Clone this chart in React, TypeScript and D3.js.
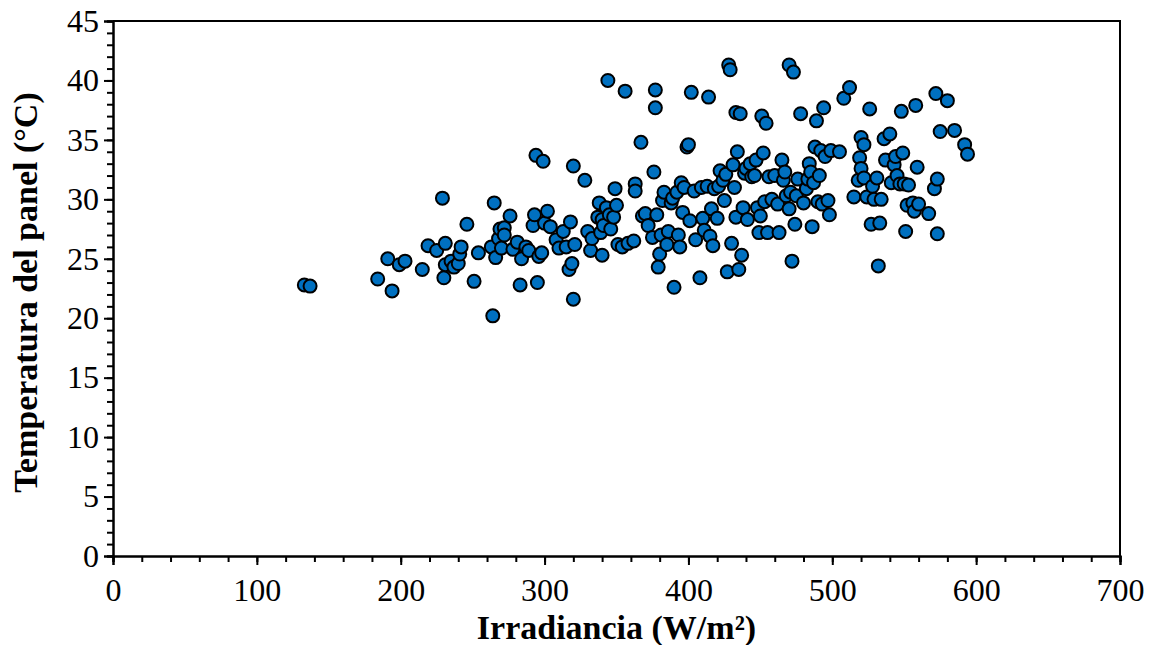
import React, { useEffect, useRef } from 'react';
import * as d3 from 'd3';

// irradiance (W/m²) and panel temperature (°C)
const irradiance = [
  133, 137, 184, 191, 194, 199, 203, 215, 219, 225, 229, 230, 231, 231, 235, 237, 240, 241, 242, 246, 251, 254,
  264, 263, 265, 266, 268, 269, 270, 272, 272, 276, 278, 281, 283, 284, 287, 289, 292, 293, 294, 295, 296, 298,
  299, 300, 302, 304, 308, 310, 313, 315, 317, 318, 319, 320, 320, 321,
  328, 330, 332, 333, 337, 338, 339, 340, 340, 341, 343, 344, 345, 346, 348, 349, 350, 351, 354, 356, 358, 362,
  363, 363, 367, 368, 370, 372, 375, 376, 377, 377, 378, 379, 380, 381, 382, 383, 385, 386, 388, 389, 390, 392,
  393, 394, 395, 396, 397, 399, 400, 401, 402, 404, 405, 408, 409, 410, 411, 413, 414, 415, 416, 417, 418, 420,
  421, 422, 424, 425, 426, 427, 428, 429, 430, 431, 432, 433, 433, 434, 435, 436, 437, 438, 439, 440, 441, 443,
  444, 446, 447, 448, 449, 450, 451, 452, 453, 454, 455, 456, 458, 460, 462, 463, 465, 466, 467, 468, 470, 470,
  471, 472, 473, 474, 475, 476, 478, 480, 482, 483, 484, 485, 486, 487, 488, 489, 490, 491, 492, 493, 494, 495,
  497, 498, 499, 505, 508, 512, 515, 518, 519, 520, 520, 522, 522, 524, 526, 527, 528, 529, 531, 532, 533, 534,
  536, 537, 540, 541, 543, 544, 545, 547, 548, 549, 550, 551, 552, 553, 556, 557, 558, 559, 560, 567, 571, 572,
  573, 573, 575, 580, 585, 592, 594,
];
const temperature = [
  22.8, 22.7, 23.3, 25.0, 22.3, 24.5, 24.8, 24.1, 26.1, 25.7, 30.1, 23.4, 24.5, 26.3, 24.8, 24.3, 24.6, 25.4, 26.0, 27.9, 23.1, 25.5,
  20.2, 26.0, 29.7, 25.1, 26.7, 27.5, 25.9, 27.6, 27.0, 28.6, 25.8, 26.4, 22.8, 25.0, 26.0, 25.7, 27.8, 28.7, 33.7, 23.0, 25.2, 25.5,
  33.2, 28.0, 29.0, 27.7, 26.6, 25.9, 27.3, 26.0, 24.1, 28.1, 24.6, 21.6, 32.8, 26.2,
  31.6, 27.3, 25.7, 26.7, 28.5, 29.7, 27.2, 25.3, 28.3, 27.8, 29.3, 40.0, 28.7, 27.5, 28.5, 30.9, 29.5, 26.2, 26.0, 39.1, 26.3, 26.5,
  31.3, 30.7, 34.8, 28.6, 28.8, 27.8, 26.8, 32.3, 39.2, 37.7, 28.7, 24.3, 25.4, 27.0, 29.9, 30.6, 26.2, 27.3, 29.7, 30.1, 22.6, 30.6,
  27.0, 26.0, 31.4, 28.9, 31.0, 34.4, 34.6, 28.2, 39.0, 30.7, 26.6, 23.4, 31.0, 28.4, 27.4, 31.1, 38.6, 26.9, 29.2, 26.1, 30.9, 28.4,
  31.1, 32.4, 31.6, 29.9, 32.1, 23.9, 41.3, 40.9, 26.3, 32.9, 31.0, 28.5, 37.3, 34.0, 24.1, 37.2, 25.3, 29.3, 32.2, 32.6, 28.3, 33.0,
  31.9, 32.0, 33.3, 29.3, 27.2, 28.6, 37.0, 33.9, 29.8, 36.4, 27.2, 31.9, 30.0, 32.0, 29.6, 27.2, 33.3, 31.6, 32.3, 30.3, 41.3, 29.2,
  30.6, 24.8, 40.7, 27.9, 30.3, 31.7, 37.2, 29.7, 30.9, 31.7, 33.0, 32.3, 27.7, 31.4, 34.4, 36.6, 29.8, 32.0, 34.1, 29.6, 37.7, 33.6,
  29.9, 28.7, 34.1, 34.0, 38.5, 39.4, 30.2, 31.6, 33.5, 35.2, 32.6, 34.6, 31.8, 30.2, 37.6, 27.9, 31.1, 30.0, 31.8, 24.4, 28.0, 30.0,
  35.1, 33.3, 35.5, 31.4, 32.9, 33.6, 32.0, 31.3, 37.4, 33.9, 31.3, 27.3, 29.5, 31.2, 29.7, 29.0, 37.9, 32.7, 29.6, 28.8, 30.9, 38.9,
  31.7, 27.1, 35.7, 38.3, 35.8, 34.6, 33.8,
];

const xTicks = [0, 100, 200, 300, 400, 500, 600, 700];
const yTicks = [0, 5, 10, 15, 20, 25, 30, 35, 40, 45];
const xMinorStep = 20;
const yMinorStep = 1;

const App = () => {
  const svgRef = useRef<SVGSVGElement>(null);

  useEffect(() => {
    const width = 1154;
    const height = 645;
    const margin = { top: 21, right: 34, bottom: 89, left: 113 };
    const innerW = width - margin.left - margin.right;
    const innerH = height - margin.top - margin.bottom;

    const svg = d3.select(svgRef.current);
    svg.selectAll('*').remove();
    svg.attr('width', width).attr('height', height);

    const g = svg.append('g').attr('transform', `translate(${margin.left},${margin.top})`);

    const x = d3.scaleLinear().domain([0, 700]).range([0, innerW]);
    const y = d3.scaleLinear().domain([0, 45]).range([innerH, 0]);

    const font = "'Liberation Serif', 'Times New Roman', Times, serif";

    // box (top + right)
    g.append('path')
      .attr('d', `M0,0H${innerW}V${innerH}`)
      .attr('fill', 'none')
      .attr('stroke', '#000')
      .attr('stroke-width', 2);

    // minor ticks
    const xMinor = d3.range(0, 700 + 1e-9, xMinorStep);
    const yMinor = d3.range(0, 45 + 1e-9, yMinorStep);

    const xAxisMinor = d3.axisBottom(x).tickValues(xMinor).tickSize(6).tickFormat(() => '');
    const yAxisMinor = d3.axisLeft(y).tickValues(yMinor).tickSize(6).tickFormat(() => '');

    const xAxis = d3.axisBottom(x).tickValues(xTicks).tickSize(9).tickPadding(13).tickFormat(d3.format('d'));
    const yAxis = d3.axisLeft(y).tickValues(yTicks).tickSize(9).tickPadding(5).tickFormat(d3.format('d'));

    const styleAxis = (sel: any) => {
      sel.attr('font-family', null).attr('font-size', null);
      sel.select('.domain').attr('stroke', '#000').attr('stroke-width', 2);
      sel.selectAll('.tick line').attr('stroke', '#000').attr('stroke-width', 2);
      sel.selectAll('text')
        .attr('fill', '#000')
        .style('font-family', font)
        .style('font-size', '32px');
    };

    g.append('g').attr('transform', `translate(0,${innerH})`).call(xAxisMinor).call(styleAxis);
    g.append('g').call(yAxisMinor).call(styleAxis);
    g.append('g').attr('transform', `translate(0,${innerH})`).call(xAxis).call(styleAxis);
    g.append('g').call(yAxis).call(styleAxis);

    // points
    const data = irradiance.map((v, i) => ({ irr: v, temp: temperature[i] }));
    g.selectAll('.dot')
      .data(data)
      .join('circle')
      .attr('class', 'dot')
      .attr('cx', (d) => x(d.irr))
      .attr('cy', (d) => y(d.temp))
      .attr('r', 6.5)
      .attr('fill', '#0070C0')
      .attr('stroke', '#000')
      .attr('stroke-width', 2);

    // axis titles
    svg.append('text')
      .attr('x', margin.left + innerW / 2)
      .attr('y', 639)
      .attr('text-anchor', 'middle')
      .style('font-family', font)
      .style('font-weight', 'bold')
      .style('font-size', '34px')
      .text('Irradiancia (W/m²)');

    svg.append('text')
      .attr('transform', `translate(37,${margin.top + innerH / 2 + 4}) rotate(-90)`)
      .attr('text-anchor', 'middle')
      .style('font-family', font)
      .style('font-weight', 'bold')
      .style('font-size', '34px')
      .text('Temperatura del panel (°C)');
  }, []);

  return (
    <div style={{ position: 'absolute', left: 0, top: 0, background: '#fff' }}>
      <svg ref={svgRef} style={{ display: 'block' }} />
    </div>
  );
};

export default App;
